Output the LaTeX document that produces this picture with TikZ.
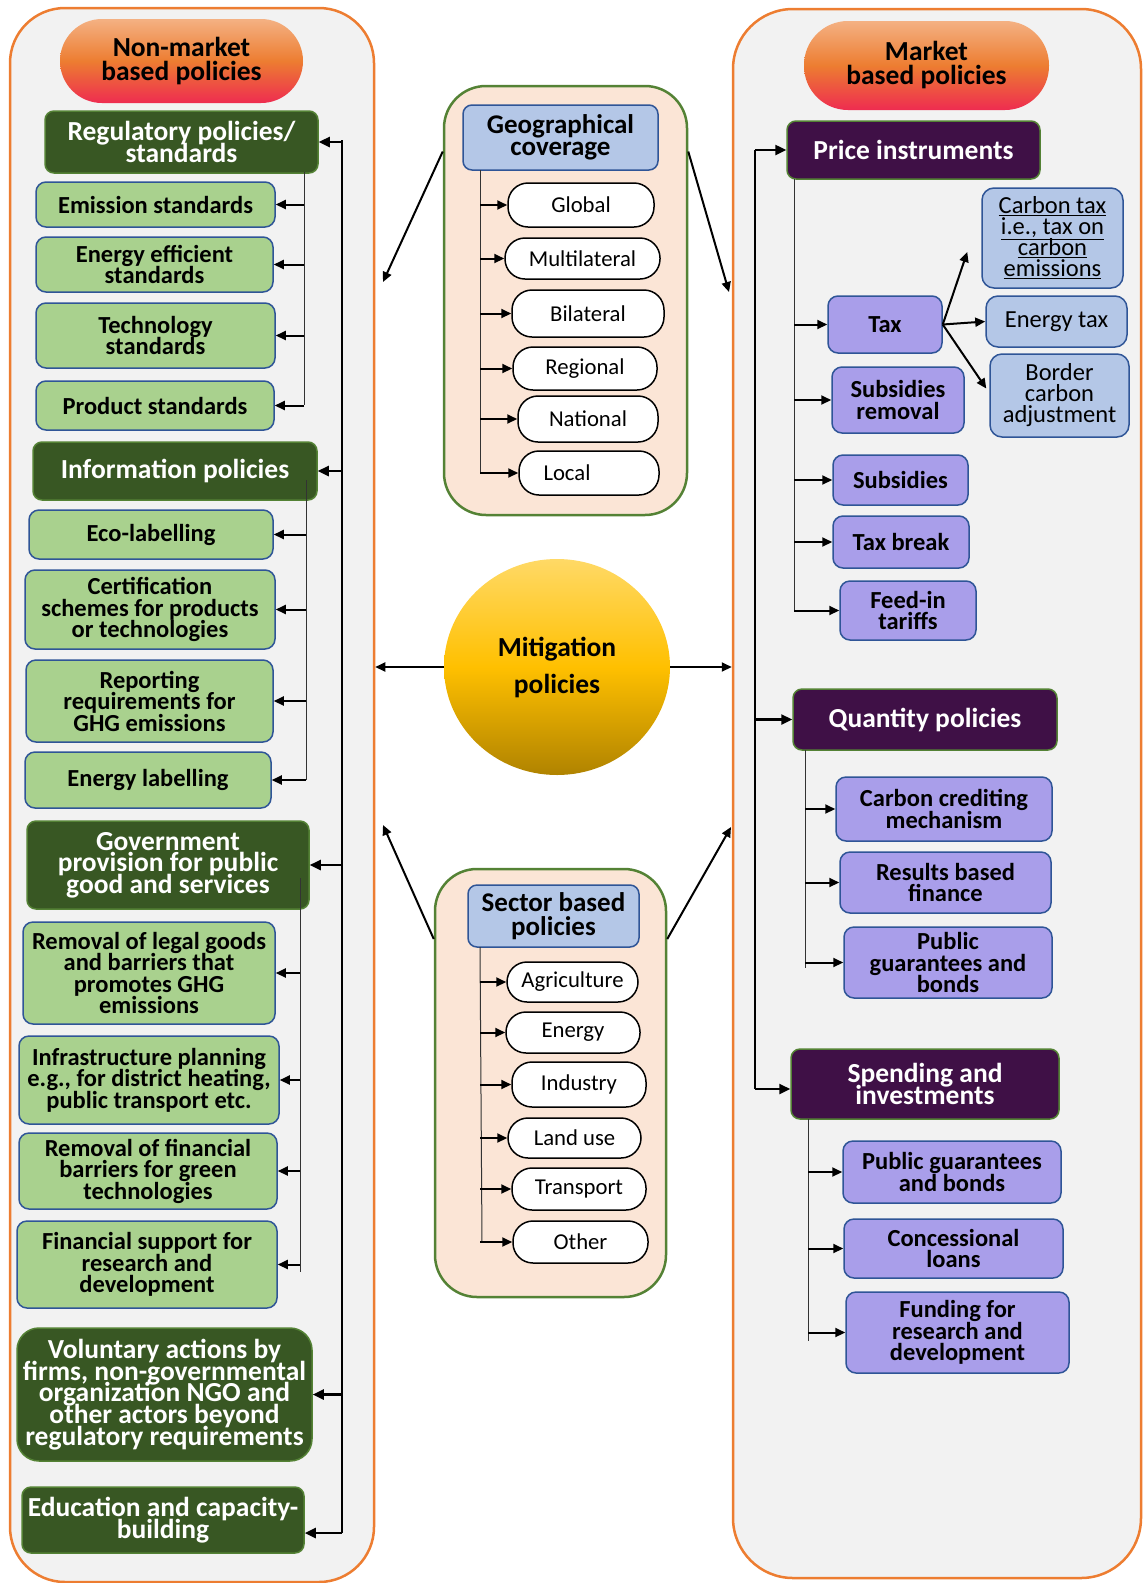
\documentclass[tikz,border=0pt]{standalone}
\usepackage{fontspec}
\setmainfont{Carlito}
\usetikzlibrary{arrows.meta,shapes.geometric}
\definecolor{panelgray}{HTML}{F2F2F2}
\definecolor{panelorange}{HTML}{ED7D31}
\definecolor{darkgreen}{HTML}{385723}
\definecolor{midgreen}{HTML}{548235}
\definecolor{lightgreen}{HTML}{A9D18E}
\definecolor{boxblue}{HTML}{2F5597}
\definecolor{paleblue}{HTML}{B4C7E7}
\definecolor{peach}{HTML}{FBE5D6}
\definecolor{darkpurple}{HTML}{3F1046}
\definecolor{lavender}{HTML}{A99EEA}
\definecolor{ovaltop}{HTML}{F4B183}
\definecolor{ovalbot}{HTML}{EE2C50}
\definecolor{suntop}{HTML}{FFD966}
\definecolor{sunmid}{HTML}{FFC000}
\definecolor{sunbot}{HTML}{B08300}

\begin{document}
\lineskiplimit=-100pt
\begin{tikzpicture}[x=1pt,y=-1pt,
    panel/.style={draw=panelorange,line width=2.5pt,fill=panelgray,rounded corners=55pt,inner sep=0pt},
    oval/.style={top color=ovaltop,bottom color=ovalbot,middle color=panelorange,rounded corners=42pt,
      inner sep=0pt,align=center,font=\bfseries\fontsize{27.5}{24}\selectfont},
    ghead/.style={draw=midgreen,line width=1.5pt,fill=darkgreen,text=white,rounded corners=9pt,
      inner sep=1pt,align=center,font=\bfseries\fontsize{27.5}{21.7}\selectfont},
    gbox/.style={draw=boxblue,line width=1.5pt,fill=lightgreen,rounded corners=10pt,
      inner sep=1pt,align=center,font=\bfseries\fontsize{24.5}{21.5}\selectfont},
    subpanel/.style={draw=midgreen,line width=2.5pt,fill=peach,rounded corners=42pt,inner sep=0pt},
    bhead/.style={draw=boxblue,line width=1.5pt,fill=paleblue,rounded corners=9pt,
      inner sep=1pt,align=center,font=\bfseries\fontsize{27}{22.5}\selectfont},
    pill/.style={draw=black,line width=1.5pt,fill=white,rounded corners=20pt,
      inner sep=0pt,font=\fontsize{22.7}{22}\selectfont},
    phead/.style={draw=midgreen,line width=1.5pt,fill=darkpurple,text=white,rounded corners=9pt,
      inner sep=1pt,align=center,font=\bfseries\fontsize{27.5}{21.5}\selectfont},
    pbox/.style={draw=boxblue,line width=1.5pt,fill=lavender,rounded corners=10pt,
      inner sep=1pt,align=center,font=\bfseries\fontsize{24.5}{21.5}\selectfont},
    tbox/.style={draw=boxblue,line width=1.5pt,fill=paleblue,rounded corners=12pt,
      inner sep=1pt,align=center,font=\fontsize{24.5}{21}\selectfont},
    bus/.style={draw=black!80,line width=1pt},
    trunk/.style={draw=black,line width=2.6pt},
    arr/.style={draw=black,line width=2pt,-{Triangle[length=10pt,width=9pt]}},
    bigarr/.style={draw=black,line width=2.4pt,-{Triangle[length=11pt,width=10pt]}}]
\useasboundingbox (0,0) rectangle (1144,1583);

\node[panel,minimum width=364,minimum height=1574] (lp) at (192,795) {};
\node[panel,minimum width=408,minimum height=1569,rounded corners=60pt] (rp) at (937,793.5) {};

\node[oval,minimum width=243,minimum height=84] (nonmkt) at (181.5,61) {Non-market\\based policies};
\node[oval,minimum width=245,minimum height=89,rounded corners=44pt] (mkt) at (926.5,65.5) {Market\\based policies};

\node[ghead,minimum width=273,minimum height=62] (reg) at (181.5,142) {Regulatory policies/\\standards};
\node[gbox,minimum width=239,minimum height=45] (emis) at (155.5,204.5) {Emission standards};
\node[gbox,minimum width=237,minimum height=55] (eneff) at (154.5,264.5) {Energy efficient\\standards};
\node[gbox,minimum width=239,minimum height=65] (tech) at (155.5,335.5) {Technology\\standards};
\node[gbox,minimum width=238,minimum height=49] (prod) at (155,405.5) {Product standards};

\node[ghead,minimum width=284,minimum height=58] (info) at (175,471) {Information policies};
\node[gbox,minimum width=244,minimum height=49] (eco) at (151,534.5) {Eco-labelling};
\node[gbox,minimum width=250,minimum height=79] (cert) at (150,609.5) {Certification\\schemes for products\\or technologies};
\node[gbox,minimum width=247,minimum height=82] (report) at (149.5,701) {Reporting\\requirements for\\GHG emissions};
\node[gbox,minimum width=246,minimum height=56] (elab) at (148,780) {Energy labelling};

\node[ghead,minimum width=282,minimum height=88] (gov) at (168,865) {Government\\provision for public\\good and services};
\node[gbox,minimum width=252,minimum height=102] (legal) at (149,973) {Removal of legal goods\\and barriers that\\promotes GHG\\emissions};
\node[gbox,minimum width=260,minimum height=88] (infra) at (149,1080) {Infrastructure planning\\e.g., for district heating,\\public transport etc.};
\node[gbox,minimum width=258,minimum height=76] (finrem) at (148,1171) {Removal of financial\\barriers for green\\technologies};
\node[gbox,minimum width=260,minimum height=87] (finsup) at (147,1264.5) {Financial support for\\research and\\development};

\node[ghead,minimum width=295,minimum height=133,rounded corners=22pt] (vol) at (164.5,1394.5) {Voluntary actions by\\firms, non-governmental\\organization NGO and\\other actors beyond\\regulatory requirements};
\node[ghead,minimum width=282,minimum height=66] (edu) at (163,1520) {Education and capacity-\\building};

\node[subpanel,minimum width=243,minimum height=429] (geo) at (565.5,300.5) {};
\node[bhead,minimum width=195,minimum height=65] (gh) at (560.5,137.5) {Geographical\\coverage};
\node[pill,minimum width=146,minimum height=44] (glob) at (581,205) {Global};
\node[pill,minimum width=155,minimum height=41] (multi) at (582.5,258.5) {Multilateral};
\node[pill,minimum width=152,minimum height=47] (bilat) at (588,313.5) {Bilateral};
\node[pill,minimum width=144,minimum height=43] (regio) at (585,368.5) {Regional};
\node[pill,minimum width=140,minimum height=46] (natio) at (588,419) {National};
\node[pill,minimum width=140,minimum height=44] (local) at (589,473) {Local\hspace*{44pt}};

\node[subpanel,minimum width=231,minimum height=428] (sec) at (550.5,1083) {};
\node[bhead,minimum width=171,minimum height=62,font=\bfseries\fontsize{27}{23.5}\selectfont] (sh) at (553.5,916) {Sector based\\policies};
\node[pill,minimum width=131,minimum height=40] (agri) at (572.5,982) {Agriculture};
\node[pill,minimum width=134,minimum height=41] (energy) at (573,1032.5) {Energy};
\node[pill,minimum width=134,minimum height=45] (indus) at (579,1084.5) {Industry};
\node[pill,minimum width=133,minimum height=40] (land) at (574.5,1138) {Land use};
\node[pill,minimum width=134,minimum height=42] (trans) at (579,1189) {Transport};
\node[pill,minimum width=135,minimum height=42] (other) at (580.5,1242) {Other};

\node[ellipse,top color=suntop,bottom color=sunbot,middle color=sunmid,minimum width=226,minimum height=216,
  inner sep=0pt,align=center,font=\bfseries\fontsize{27.5}{37}\selectfont] (mit) at (557,667) {Mitigation\\policies};

\node[phead,minimum width=253,minimum height=58] (price) at (913.5,150) {Price instruments};
\node[pbox,minimum width=114,minimum height=57] (tax) at (885,324.5) {Tax};
\node[pbox,minimum width=132,minimum height=66] (subrem) at (898,400) {Subsidies\\removal};
\node[pbox,minimum width=135,minimum height=50] (subs) at (900.5,480) {Subsidies};
\node[pbox,minimum width=136,minimum height=52] (taxbr) at (901,542) {Tax break};
\node[pbox,minimum width=136,minimum height=59] (feed) at (908,610.5) {Feed-in\\tariffs};
\node[tbox,minimum width=141,minimum height=100] (ctax) at (1052.5,238) {\underline{Carbon tax}\\\underline{i.e., tax on}\\\underline{carbon}\\\underline{emissions}};
\node[tbox,minimum width=141,minimum height=51] (etax) at (1056.5,321.5) {Energy tax};
\node[tbox,minimum width=139,minimum height=83] (bca) at (1059.5,395.5) {Border\\carbon\\adjustment};

\node[phead,minimum width=264,minimum height=61] (quant) at (925,719.5) {Quantity policies};
\node[pbox,minimum width=216,minimum height=64] (cred) at (944,809) {Carbon crediting\\mechanism};
\node[pbox,minimum width=211,minimum height=61] (resf) at (945.5,882.5) {Results based\\finance};
\node[pbox,minimum width=208,minimum height=71] (pgba) at (948,962.5) {Public\\guarantees and\\bonds};

\node[phead,minimum width=268,minimum height=70] (spend) at (925,1084) {Spending and\\investments};
\node[pbox,minimum width=218,minimum height=62] (pgbb) at (952,1172) {Public guarantees\\and bonds};
\node[pbox,minimum width=219,minimum height=59] (conc) at (953.5,1248.5) {Concessional\\loans};
\node[pbox,minimum width=223,minimum height=81] (fund) at (957.5,1332.5) {Funding for\\research and\\development};

\coordinate (ltop) at (342,140);
\coordinate (lbot) at (342,1533);
\draw[trunk] (ltop) -- (lbot);
\foreach \n in {reg,info,gov,vol}
  \draw[bigarr] (ltop |- \n.east) -- (\n.east);
\draw[bigarr] (lbot) -- (edu.east |- lbot);

\coordinate (regbus) at (304,172);
\draw[bus] (regbus) -- (304,405);
\foreach \n in {emis,eneff,tech,prod}
  \draw[arr] (regbus |- \n.east) -- (\n.east);
\coordinate (infobus) at (306,480);
\draw[bus] (infobus) -- (306,780);
\foreach \n in {eco,cert,report,elab}
  \draw[arr] (infobus |- \n.east) -- (\n.east);
\coordinate (govbus) at (300,878);
\draw[bus] (govbus) -- (300,1272);
\foreach \n in {legal,infra,finrem,finsup}
  \draw[arr] (govbus |- \n.east) -- (\n.east);

\coordinate (geobus) at (480,170);
\draw[bus] (geobus) -- (480,473);
\foreach \n in {glob,multi,bilat,regio,natio,local}
  \draw[arr] (geobus |- \n.west) -- (\n.west);
\coordinate (secbus) at (480,947);
\draw[bus] (secbus) -- (482,1242);
\foreach \n in {agri,energy,indus,land,trans,other}
  \draw[arr] (secbus |- \n.west) -- (\n.west);

\coordinate (rtop) at (755,150);
\coordinate (rbot) at (755,1089);
\draw[trunk] (rtop) -- (rbot);
\draw[bigarr] (rtop) -- (price.west);
\draw[bigarr] (rtop |- quant.west) -- (quant.west);
\draw[bigarr] (rbot) -- (spend.west |- rbot);

\coordinate (pricebus) at (794,179);
\draw[bus] (pricebus) -- (794,611);
\foreach \n in {tax,subrem,subs,taxbr,feed}
  \draw[arr] (pricebus |- \n.west) -- (\n.west);
\draw[arr] (tax.east) -- ([shift={(-14pt,-14pt)}]ctax.west);
\draw[arr] (tax.east) -- (etax.west);
\draw[arr] (tax.east) -- ([shift={(-3pt,7pt)}]bca.west);

\coordinate (quantbus) at (805,750);
\draw[bus] (quantbus) -- (805,968);
\foreach \n in {cred,resf,pgba}
  \draw[arr] (quantbus |- \n.west) -- (\n.west);
\coordinate (spendbus) at (808,1119);
\draw[bus] (spendbus) -- (808,1341);
\foreach \n in {pgbb,conc,fund}
  \draw[arr] (spendbus |- \n.west) -- (\n.west);

\draw[arr] (mit.west) -- (mit.west -| lp.east);
\draw[arr] (mit.east) -- (mit.east -| rp.west);

\coordinate (geoleft) at (383,282);
\coordinate (georight) at (729,292);
\coordinate (secleft) at (383,825);
\coordinate (secright) at (731,827);
\draw[arr] ([yshift=-14pt]gh.center -| geo.west) -- (geoleft);
\draw[arr] ([yshift=-14pt]gh.center -| geo.east) -- (georight);
\draw[arr] ([yshift=-23pt]sh.center -| sec.west) -- (secleft);
\draw[arr] ([yshift=-23pt]sh.center -| sec.east) -- (secright);
\end{tikzpicture}
\end{document}
